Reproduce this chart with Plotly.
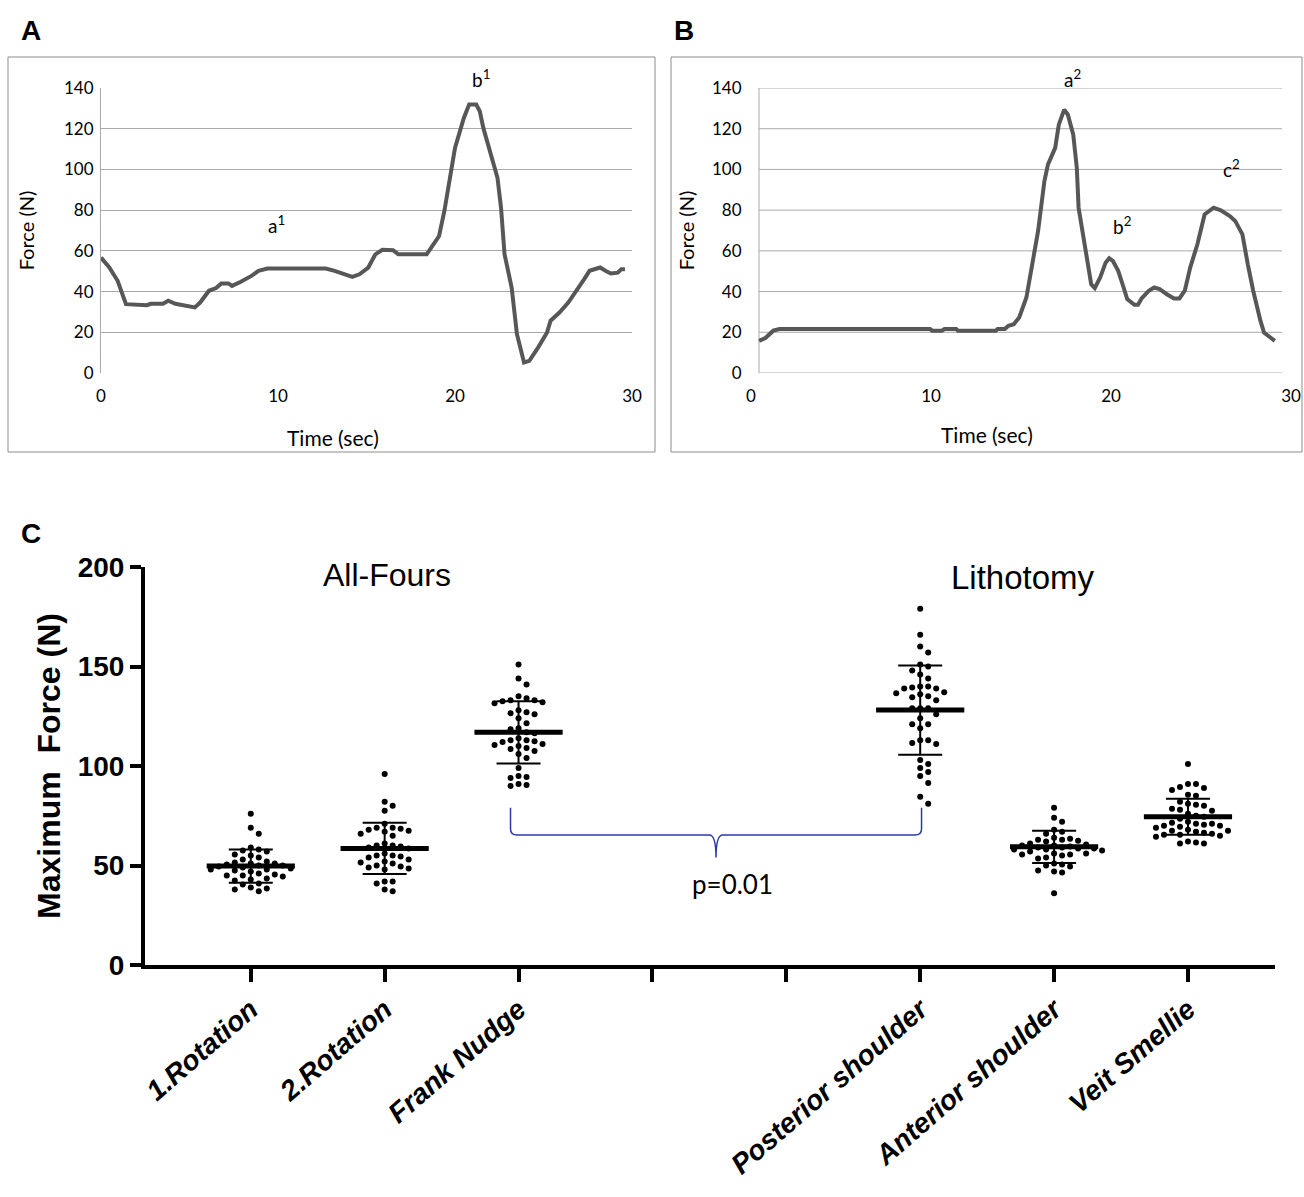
import plotly.graph_objects as go

W, H = 1304, 1197

# ---------------- Panel A data (time in s, force in N) ----------------
tA = [0, 0.47, 0.94, 1.41, 2.6, 2.8, 3.5, 3.8, 4.2, 4.7, 5.3, 5.6, 6.1, 6.5, 6.8, 7.2, 7.4, 7.9,
      8.5, 8.9, 9.4, 10.8, 12.7, 13.2, 13.6, 14.2, 14.6, 15.1, 15.5, 15.9, 16.5, 16.8, 18.4, 18.8,
      19.1, 19.4, 19.6, 20.0, 20.5, 20.8, 21.2, 21.4, 21.6, 22.0, 22.4, 22.6, 22.8, 23.2, 23.5,
      23.9, 24.2, 24.7, 25.2, 25.4, 25.9, 26.4, 26.8, 27.3, 27.6, 28.0, 28.2, 28.5, 28.8, 29.2,
      29.4, 29.6]
fA = [56.7, 51.8, 45.3, 33.8, 33.3, 34, 34, 35.5, 34, 33.3, 32.2, 34.6, 40.4, 41.7, 44, 44, 42.8,
      44.8, 47.7, 50.2, 51.3, 51.3, 51.3, 50.2, 48.9, 47.2, 48.5, 51.8, 58.3, 60.5, 60.3, 58.3,
      58.3, 63.2, 67.3, 79.6, 91, 110.6, 125.3, 131.9, 131.9, 128.6, 120.4, 107.4, 95.9, 81.2,
      58.3, 42, 19.1, 5.2, 6, 12.6, 19.9, 25.7, 29.7, 34.6, 39.5, 46.1, 50.2, 51, 51.8, 50.2,
      48.9, 49.3, 51, 51]

# ---------------- Panel B data ----------------
tB = [0.45, 0.8, 1.24, 1.58, 9.95, 10.07, 10.6, 10.75, 11.4, 11.5, 13.6, 13.7, 14.1, 14.3, 14.6,
      14.9, 15.3, 15.6, 15.95, 16.3, 16.5, 16.9, 17.1, 17.4, 17.6, 17.9, 18.1, 18.2, 18.6, 18.9,
      19.1, 19.4, 19.7, 19.9, 20.1, 20.4, 20.7, 20.9, 21.3, 21.5, 21.7, 22.1, 22.4, 22.7, 23.1,
      23.5, 23.8, 24.1, 24.4, 24.8, 25.2, 25.7, 26.1, 26.6, 26.9, 27.3, 27.6, 27.9, 28.3, 28.5,
      28.8, 29.1]
fB = [15.8, 17.2, 20.8, 21.6, 21.6, 20.8, 20.8, 21.6, 21.6, 20.8, 20.8, 21.6, 21.6, 23.2, 24,
      27.3, 37.1, 53.4, 69.8, 94.3, 102.5, 110.6, 122, 129.4, 127, 117.2, 100.8, 81.2, 58.3, 43.6,
      41.7, 46.9, 54.2, 56.4, 55.1, 50.2, 42, 36.3, 33.5, 33.5, 36.6, 40.4, 42, 41.2, 38.7, 36.6,
      36.6, 40.4, 51.8, 63.2, 77.9, 81.2, 79.9, 77.1, 74.7, 68.1, 53.4, 40.4, 25.7, 19.9, 17.8,
      15.8]

# ---------------- Panel C data ----------------
tick_labels = ["1.Rotation", "2.Rotation", "Frank Nudge", "", "",
               "Posterior shoulder", "Anterior shoulder", "Veit Smellie"]
group_names = ["1.Rotation", "2.Rotation", "Frank Nudge",
               "Posterior shoulder", "Anterior shoulder", "Veit Smellie"]
rotation1 = [76, 69, 66, 59, 58, 57.5, 57, 55.5, 55, 54, 53, 52, 51.5, 51, 51, 50.5, 50, 50, 49.5,
             49, 48.5, 48, 48, 47.5, 47, 46, 45.5, 45, 45, 44.5, 43.5, 43, 42.5, 41, 40.5, 39,
             38.5, 38, 37]
rotation2 = [96, 82, 80, 77.5, 71, 69, 69, 68.5, 68, 67.5, 67, 66, 65, 61, 60, 60, 59.5, 59, 58.5,
             56, 55, 55, 54.5, 54, 53, 52, 51.5, 51, 50, 49.5, 49, 48.5, 48, 42, 42, 41, 38, 37]
frank_nudge = [151, 144, 141, 135, 134, 133, 133, 132.5, 132, 131.5, 128, 127, 126.5, 126, 124,
               121.5, 119, 118.5, 117, 116.5, 114, 113, 113, 112.5, 112, 111, 110.5, 110, 109,
               108.5, 107.5, 106, 104, 99, 95, 94.5, 94, 91, 90.5, 90]
posterior = [179, 166, 160, 157, 151, 150, 148, 146, 144, 140, 140, 139.5, 139, 139, 137, 136.5,
             136, 135, 134.5, 133, 129, 129, 129, 126, 124, 121, 121, 119, 113, 113, 111.5, 111,
             103, 101, 99, 97, 95, 91.5, 84.5, 81]
anterior = [79, 74, 72, 68, 67, 66, 64, 63.5, 63, 63, 62.5, 62, 61, 60.5, 60, 60, 59.5, 59, 59,
            58.5, 58.5, 58, 58, 57.5, 57, 56, 56, 55.5, 55.5, 55, 54, 53.5, 51, 50.5, 50, 49.5,
            47.5, 47, 46.5, 36]
veit_smellie = [101, 91, 91, 89.5, 89, 88, 85.5, 85, 82, 81, 80.5, 80, 78.5, 78, 77.5, 76, 75,
                74.5, 73.5, 72, 71.5, 71, 71, 70.5, 70, 70, 69.5, 69, 68, 67.5, 67.5, 67, 66.5, 66,
                65.5, 65.5, 65, 64.5, 62, 61.5, 61, 61]
group_pos = [0, 1, 2, 5, 6, 7]
group_mean = [49.7, 58.6, 116.9, 128.1, 59.4, 74.5]
group_sd = [8.4, 12.9, 15.7, 22.4, 8.1, 9.0]
groups = [rotation1, rotation2, frank_nudge, posterior, anterior, veit_smellie]

# ---------------- helpers ----------------
def fx(px):
    return px / W

def fy(py):
    return 1 - py / H

# Panel C pixel geometry (used for swarm layout)
C_X0, C_X1 = 145, 1275
C_Y0, C_Y1 = 965, 567
C_RANGE_X = [-0.79, 7.65]
PX_PER_X = (C_X1 - C_X0) / (C_RANGE_X[1] - C_RANGE_X[0])
PX_PER_Y = (C_Y0 - C_Y1) / 200.0

# Panels A/B pixel geometry
AB_Y0, AB_Y1 = 373, 88
A_X0, A_X1 = 101, 632
B_X0, B_X1 = 751, 1291
B_PLOT_L, B_PLOT_R = 759, 1282


def swarm(vals, center, step_px=8.0, diam_px=7.4):
    placed = []
    xs, ys = [], []
    for v in sorted(vals, reverse=True):
        k = 0
        while True:
            for off in ([0] if k == 0 else [k, -k]):
                ok = True
                for (ox, oy) in placed:
                    dx = (off - ox) * step_px
                    dy = (v - oy) * PX_PER_Y
                    if dx * dx + dy * dy < diam_px * diam_px:
                        ok = False
                        break
                if ok:
                    break
            if ok:
                break
            k += 1
        placed.append((off, v))
        xs.append(center + off * step_px / PX_PER_X)
        ys.append(v)
    return xs, ys


fig = go.Figure()

LINE_COL = "#575757"
GRID_COL = "#a9a9a9"
CAL = "Lato, 'Open Sans', sans-serif"
ARIAL = "'Liberation Sans', Arial, sans-serif"

# Panel A curve
fig.add_trace(go.Scatter(x=tA, y=fA, mode="lines", line=dict(color=LINE_COL, width=4),
                         xaxis="x", yaxis="y", showlegend=False, hoverinfo="skip"))
# Panel B curve
fig.add_trace(go.Scatter(x=tB, y=fB, mode="lines", line=dict(color=LINE_COL, width=4),
                         xaxis="x2", yaxis="y2", showlegend=False, hoverinfo="skip"))

# Panel C: dots
for pos, vals in zip(group_pos, groups):
    xs, ys = swarm(vals, pos)
    fig.add_trace(go.Scatter(x=xs, y=ys, mode="markers",
                             marker=dict(color="black", size=6),
                             xaxis="x3", yaxis="y3", showlegend=False, hoverinfo="skip"))

# Panel C: mean +- SD  (line-ew marker is 1.4*size wide)
fig.add_trace(go.Scatter(
    x=group_pos, y=group_mean, mode="markers",
    marker=dict(symbol="line-ew", size=63, line=dict(color="black", width=5)),
    error_y=dict(type="data", array=group_sd, symmetric=True, color="black",
                 thickness=2, width=22),
    xaxis="x3", yaxis="y3", showlegend=False, hoverinfo="skip"))

# Brace between Frank Nudge and Posterior shoulder
brace_from = 2
brace_to = 5
brace_top, brace_bar, brace_tip = 79, 65.3, 54
xl = brace_from - 0.06
xr = brace_to + 0.01
xm = (xl + xr) / 2
r = 0.05
path = (f"M {xl},{brace_top} L {xl},{brace_bar + 3} Q {xl},{brace_bar} {xl + r},{brace_bar} "
        f"L {xm - r},{brace_bar} Q {xm},{brace_bar} {xm},{brace_tip} "
        f"Q {xm},{brace_bar} {xm + r},{brace_bar} L {xr - r},{brace_bar} "
        f"Q {xr},{brace_bar} {xr},{brace_bar + 3} L {xr},{brace_top}")

shapes = [
    dict(type="rect", xref="paper", yref="paper", x0=fx(8), x1=fx(655), y0=fy(452), y1=fy(57),
         line=dict(color="#8c8c8c", width=1)),
    dict(type="rect", xref="paper", yref="paper", x0=fx(671), x1=fx(1302), y0=fy(452), y1=fy(57),
         line=dict(color="#8c8c8c", width=1)),
    dict(type="path", xref="x3", yref="y3", path=path, line=dict(color="#2b3aa8", width=1.5)),
]
# Panel B gridlines / axis lines (plot area narrower than the tick-label span)
b_lo = (B_PLOT_L - B_X0) / (B_X1 - B_X0)
b_hi = (B_PLOT_R - B_X0) / (B_X1 - B_X0)
for gv in [0, 20, 40, 60, 80, 100, 120, 140]:
    shapes.append(dict(type="line", xref="x2 domain", yref="y2", x0=b_lo, x1=b_hi, y0=gv, y1=gv,
                       line=dict(color=GRID_COL, width=1), layer="below"))
shapes.append(dict(type="line", xref="x2 domain", yref="y2", x0=b_lo, x1=b_lo, y0=0, y1=140,
                   line=dict(color=GRID_COL, width=1), layer="below"))

small = dict(family=CAL, size=19, color="black")
ab_title = dict(family=CAL, size=21, color="black")
big = dict(family=ARIAL, size=28, color="black")
ann = lambda **k: dict(showarrow=False, xanchor="center", yanchor="middle", **k)
annotations = [
    ann(text="<b>A</b>", x=fx(31), y=fy(31), xref="paper", yref="paper", font=big),
    ann(text="<b>B</b>", x=fx(684), y=fy(31), xref="paper", yref="paper", font=big),
    ann(text="<b>C</b>", x=fx(31), y=fy(533), xref="paper", yref="paper", font=big),
    ann(text="a<sup>1</sup>", x=9.9, y=73, xref="x", yref="y", font=small),
    ann(text="b<sup>1</sup>", x=fx(481), y=fy(79), xref="paper", yref="paper", font=small),
    ann(text="a<sup>2</sup>", x=fx(1072), y=fy(79), xref="paper", yref="paper", font=small),
    ann(text="b<sup>2</sup>", x=fx(1122), y=fy(225), xref="paper", yref="paper", font=small),
    ann(text="c<sup>2</sup>", x=fx(1231), y=fy(168), xref="paper", yref="paper", font=small),
    ann(text="Time (sec)", x=fx(333), y=fy(437), xref="paper", yref="paper", font=ab_title),
    ann(text="Time (sec)", x=fx(987), y=fy(435), xref="paper", yref="paper", font=ab_title),
    ann(text="All-Fours", x=1.02, y=196, xref="x3", yref="y3",
        font=dict(family=ARIAL, size=32, color="black")),
    ann(text="Lithotomy", x=5.77, y=194.5, xref="x3", yref="y3",
        font=dict(family=ARIAL, size=33, color="black")),
    ann(text="p=0.01", x=3.6, y=40.7, xref="x3", yref="y3",
        font=dict(family=CAL, size=26, color="black")),
]

ab_tick = dict(family=CAL, size=17, color="black")

# labelled vs unlabelled category ticks on the C x-axis
lab_vals = [i for i, t in enumerate(tick_labels) if t]
lab_text = [t for t in tick_labels if t]
blank_vals = [i for i, t in enumerate(tick_labels) if not t]

fig.update_layout(
    width=W, height=H, margin=dict(l=0, r=0, t=0, b=0, autoexpand=False),
    paper_bgcolor="white", plot_bgcolor="white",
    shapes=shapes, annotations=annotations,
    xaxis=dict(domain=[fx(A_X0), fx(A_X1)], range=[0, 30], tickvals=[0, 10, 20, 30],
               showgrid=False, zeroline=False, showline=False, ticks="outside", ticklen=8,
               tickcolor="rgba(0,0,0,0)", tickfont=ab_tick, anchor="y", automargin=False,
               ticklabeloverflow="allow"),
    yaxis=dict(domain=[fy(AB_Y0), fy(AB_Y1)], range=[0, 140], tickvals=list(range(0, 141, 20)),
               showgrid=True, gridcolor=GRID_COL, gridwidth=1, zeroline=False,
               showline=True, linecolor=GRID_COL, linewidth=1, mirror=False,
               ticks="outside", ticklen=3, tickcolor="rgba(0,0,0,0)", tickfont=ab_tick,
               anchor="x", automargin=False,
               title=dict(text="Force (N)", font=dict(family=CAL, size=20, color="black"),
                          standoff=24)),
    xaxis2=dict(domain=[fx(B_X0), fx(B_X1)], range=[0, 30], tickvals=[0, 10, 20, 30],
                showgrid=False, zeroline=False, showline=False, ticks="outside", ticklen=8,
                tickcolor="rgba(0,0,0,0)", tickfont=ab_tick, anchor="y2", automargin=False,
                ticklabeloverflow="allow"),
    yaxis2=dict(domain=[fy(AB_Y0), fy(AB_Y1)], range=[0, 140], tickvals=list(range(0, 141, 20)),
                showgrid=False, zeroline=False, showline=False,
                ticks="outside", ticklen=5, tickcolor="rgba(0,0,0,0)", tickfont=ab_tick,
                anchor="x2", automargin=False,
                title=dict(text="Force (N)", font=dict(family=CAL, size=20, color="black"),
                           standoff=12)),
    xaxis3=dict(domain=[fx(C_X0), fx(C_X1)], range=C_RANGE_X, tickvals=lab_vals,
                ticktext=lab_text, tickangle=-41, showgrid=False, zeroline=False,
                showline=True, linecolor="black", linewidth=4, ticks="outside", ticklen=13,
                tickwidth=4, tickcolor="black", automargin=False, ticklabeloverflow="allow",
                minor=dict(tickvals=blank_vals, ticks="outside", ticklen=13, tickwidth=4,
                           tickcolor="black", showgrid=False),
                tickfont=dict(family=ARIAL, size=28, color="black", weight="bold",
                              style="italic"),
                anchor="y3"),
    yaxis3=dict(domain=[fy(C_Y0), fy(C_Y1)], range=[0, 200], tickvals=[0, 50, 100, 150, 200],
                showgrid=False, zeroline=False, showline=True, linecolor="black", linewidth=4,
                ticks="outside", ticklen=11, tickwidth=4, tickcolor="black",
                tickfont=dict(family=ARIAL, size=28, color="black", weight="bold"),
                anchor="x3", automargin=False,
                title=dict(text="<b>Maximum\u00a0 Force (N)</b>",
                           font=dict(family=ARIAL, size=32, color="black"), standoff=8)),
)

fig.write_html("out.html", config={"displayModeBar": False},
               post_script="document.body.style.margin='0px';")
